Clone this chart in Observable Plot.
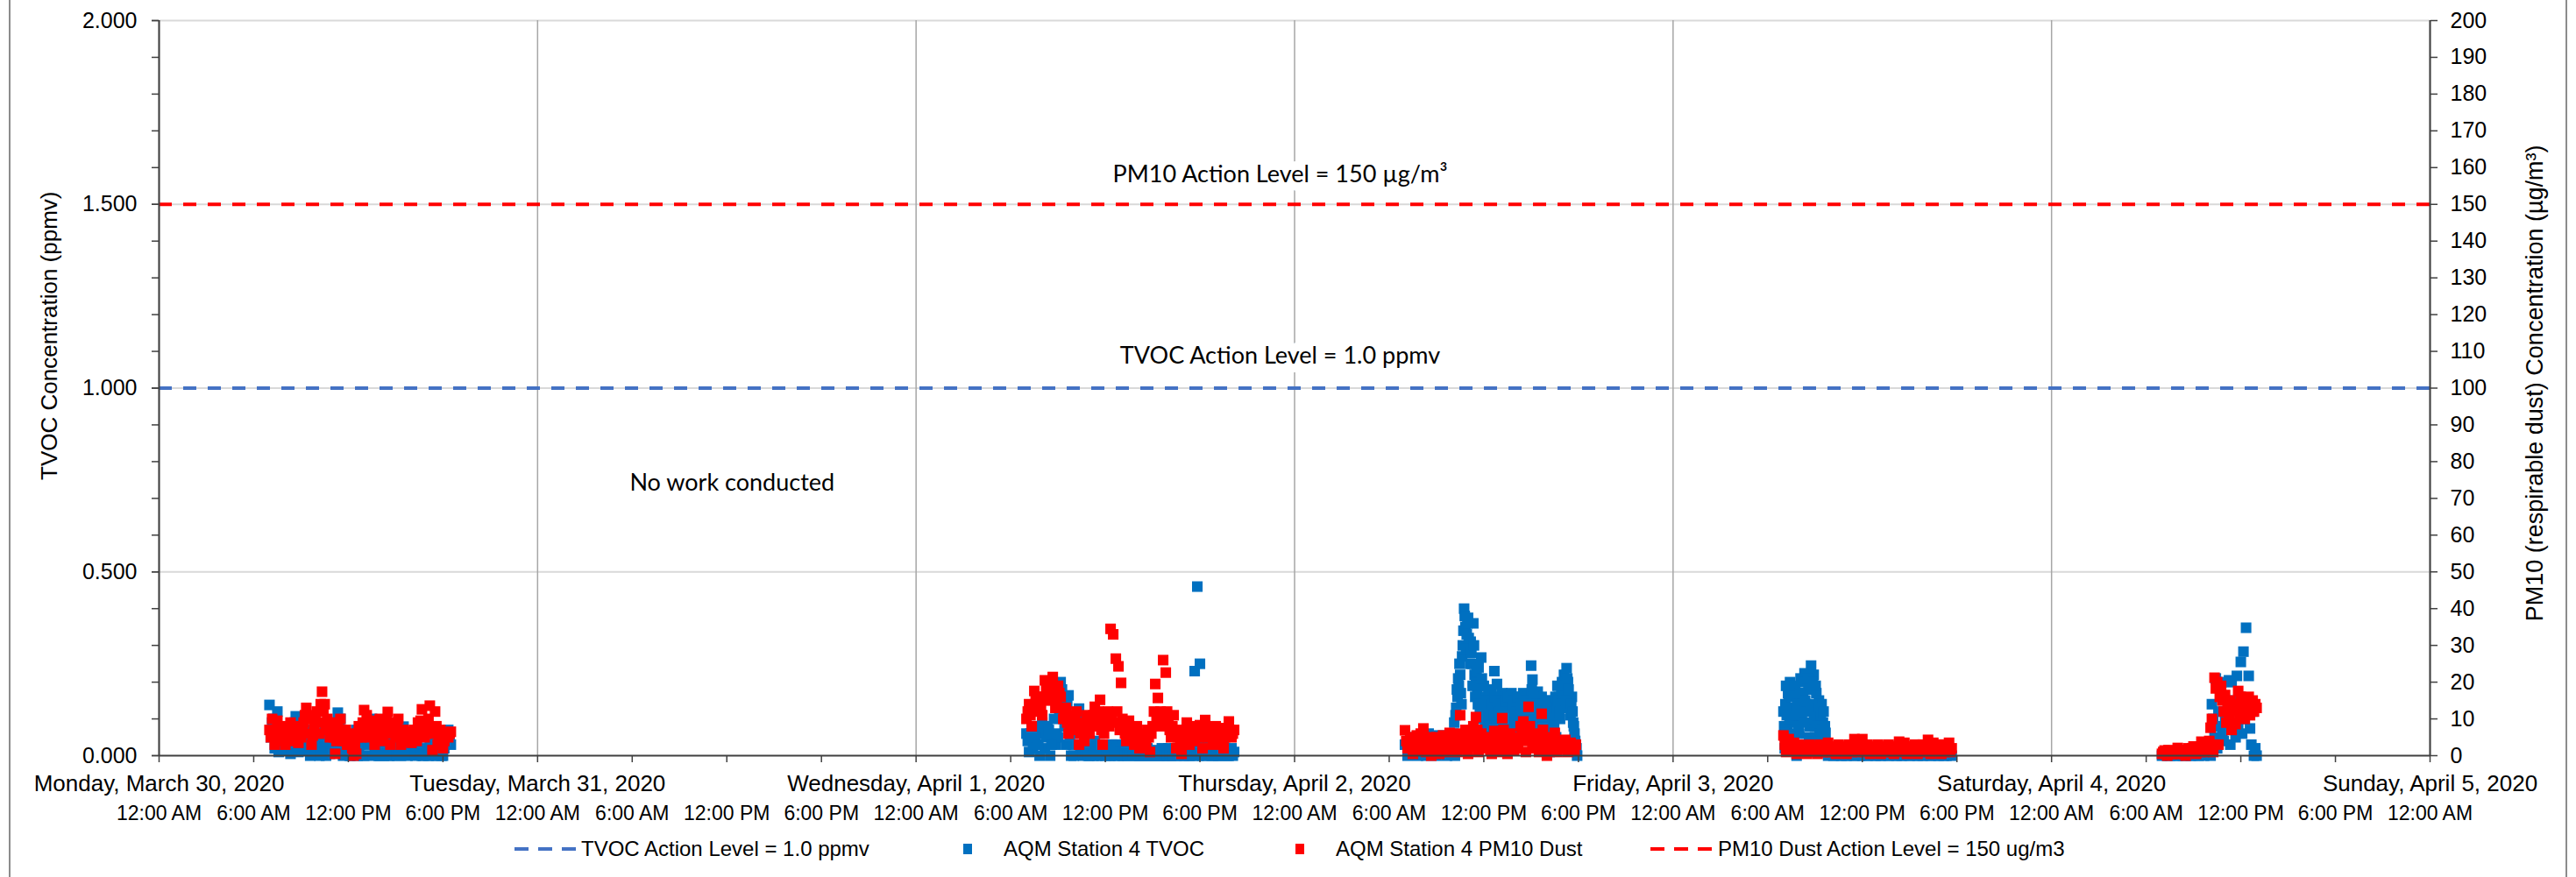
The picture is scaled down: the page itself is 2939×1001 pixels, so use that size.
<!DOCTYPE html>
<html>
<head>
<meta charset="utf-8">
<script src="https://cdn.jsdelivr.net/npm/d3@7"></script>
<script src="https://cdn.jsdelivr.net/npm/@observablehq/plot@0.6"></script>
<style>
  body { margin: 0; background: #fff; }
  #wrap { position: relative; width: 2939px; height: 1001px; overflow: hidden; font-family: "Liberation Sans", Arial, sans-serif; color: #000; }
  #border { position: absolute; left: 10px; top: -3px; width: 2919px; height: 1020px; border: 2px solid #8c8c8c; box-sizing: border-box; pointer-events: none; }
  #chart { position: absolute; left: 0; top: 0; }
  #legend { position: absolute; left: 0; top: 950px; width: 2939px; height: 38px; font-size: 24px; }
  .item { position: absolute; top: 0; height: 38px; display: flex; align-items: center; white-space: nowrap; }
</style>
</head>
<body>
<div id="wrap">
  <div id="chart"></div>
  <div id="legend"></div>
  <div id="border"></div>
</div>
<script>
// ---------- axis / tick definitions ----------
const dayTicks = ["2020-03-30", "2020-03-31", "2020-04-01", "2020-04-02", "2020-04-03", "2020-04-04", "2020-04-05"];
const dayLabels = ["Monday, March 30, 2020", "Tuesday, March 31, 2020", "Wednesday, April 1, 2020",
  "Thursday, April 2, 2020", "Friday, April 3, 2020", "Saturday, April 4, 2020", "Sunday, April 5, 2020"];
const hourLabels = ["12:00 AM", "6:00 AM", "12:00 PM", "6:00 PM"];
const leftMajorTicks = [0, 0.5, 1.0, 1.5, 2.0];
const leftMinorTicks = [0, 0.1, 0.2, 0.3, 0.4, 0.5, 0.6, 0.7, 0.8, 0.9, 1.0, 1.1, 1.2, 1.3, 1.4, 1.5, 1.6, 1.7, 1.8, 1.9, 2.0];
const rightTickLabels = [0, 10, 20, 30, 40, 50, 60, 70, 80, 90, 100, 110, 120, 130, 140, 150, 160, 170, 180, 190, 200];
const leftMax = 2.0, rightMax = 200;            // left axis ppmv, right axis µg/m³
const tvocActionLevel = 1.0;                    // ppmv
const pm10ActionLevel = 150;                    // µg/m³

// ---------- measured values (start time, step in minutes, values) ----------
// TVOC in ppmv, PM10 in µg/m³
const monTVOC = [0.138,0.09,0.02,0.12,0.03,0.06, 0.015,0.076,0.005,0.05,0.107,0.01, 0.09,0.015,0.05,0.07,0.03,0.01,
  0.06,0.0,0.04,0.08,0.02,0.005, 0.06,0.03,0.117,0.10,0.0,0.05, 0.04,0.0,0.02,0.07,0.01,0.05,
  0.0,0.06,0.03,0.10,0.01,0.04, 0.0,0.06,0.02,0.04,0.0,0.05, 0.01,0.03,0.0,0.079,0.02,0.045,
  0.06,0.01,0.04,0.079,0.0,0.05, 0.005,0.03,0.0,0.04,0.005,0.03, 0.0,0.05,0.07,0.03];
const monTVOC_b = [0.05,0.1,0.07,0.01,0.04,0.02, 0.05,0.03,0.02,0.09,0.04,0.03, 0.04,0.02,0.06,0.0,0.05,0.02,
  0.03,0.01,0.05,0.0,0.04,0.06, 0.09,0.05,0.08,0.02,0.01,0.03, 0.0,0.03,0.05,0.0,0.03,0.0,
  0.04,0.08,0.06,0.0,0.02,0.0, 0.03,0.0,0.01,0.0,0.02,0.03, 0.0,0.02,0.06,0.04,0.0,0.03,
  0.03,0.0,0.06,0.02,0.0,0.01, 0.0,0.01,0.02,0.0,0.01,0.0, 0.02,0.06,0.05];
const monPM10 = [7,10,3,9.5,4,8, 3,6.5,9,4,8,3.5, 5,9,13,11,3,8, 12,6,17.4,14,10,5, 9,0.5,8,10,4,7,
  3,6,0,0.5,8,5, 12.4,11,5,9.5,3,7, 10,4,8,11.9,3,9, 5,10,3,7,4,6.5, 3.5,7,4,6,12.6,5,
  8,13.6,1.5,12,3,7, 2,6,5,6.5];
const monPM10_b = [5,6,7,6.5,5.5,5, 5,4.5,6,7,5.5,6, 7,11,10,6,5.5,10, 9,14,12,8,7,6, 5,4,6,7,5,3,
  4,2,3,5,6,9, 8,7,7.5,6,5,8, 7,6,9.5,7,6,7, 8,6,5,5.5,5,5, 5,5.5,9,9.5,8,6,
  10,7,6,8,5,4.5, 4,5.5,6];

const wedTVOC = [0.06,0.01,0.08,0.03,0.07,0.0, 0.09,0.02,0.08,0.0,0.05,0.03, 0.05,0.2,0.15,0.03,0.164,0.0,
  0.0,0.1,0.128,0.02,0.03,0.005, 0.0,0.01,0.04,0.0,0.03,0.01, 0.0,0.02,0.0,0.01,0.03,0.0,
  0.02,0.0,0.04,0.005,0.01,0.0, 0.02,0.0,0.01,0.0,0.02,0.0, 0.01,0.0,0.015,0.0,0.01,0.0,
  0.02,0.0,0.01,0.0,0.02,0.005, 0.0,0.01,0.0,0.02,0.23,0.46, 0.25,0.0,0.02,0.01,0.03,0.0,
  0.04,0.0,0.02,0.03,0.01,0.0, 0.02,0.01];
const wedTVOC_b = [0.04,0.06,0.02,0.05,0.03,0.08, 0.06,0.05,0.07,0.03,0.1,0.06, 0.12,0.18,0.08,0.14,0.05,0.03,
  0.06,0.11,0.02,0.0,0.01,0.0, 0.02,0.0,0.01,0.03,0.0,0.02, 0.01,0.0,0.03,0.0,0.02,0.01,
  0.0,0.01,0.0,0.02,0.0,0.01, 0.0,0.02,0.0,0.01,0.0,0.01, 0.0,0.01,0.0,0.02,0.0,0.0,
  0.01,0.0,0.02,0.0,0.01,0.0, 0.02,0.0,0.01,0.0,0.02,0.0, 0.01,0.03,0.0,0.02,0.0,0.01,
  0.0,0.01,0.0,0.02,0.0,0.01, 0.0];
const wedPM10 = [10,14,8,17.6,12,16, 11,20.5,15,18,21.4,13, 19,16,10,13,6,11, 8,12,3,9,4,11,
  6,8,13.3,10,15.2,3, 9,12,34.5,33,26.4,24.3, 19.8,8,4,9.5,6,3, 8,2,6,4,7,1,
  8,19.5,15.7,12,26,22.6, 9,5,11,2,7,0.5, 5,9,3,8,4,6, 8.3,2,9.7,5,7,3,
  8,4,6,2,7.5,9.3, 5,7];
const wedPM10_b = [12,11,13,15,14,13, 16,18,17,19,17,15, 17,13,12,9,8,10, 10,7,6,7,8,9,
  10,11,9,12,7,6, 11,8,10,9,12,7, 10,6,7,5,5,6, 5,4,5,3,5,6,
  12,10,9,8,10,12, 7,8,6,5,4,3, 7,6,5,6,7,5, 5,6,7,6,5,5,
  6,5,4,5,6,7, 6];

const thuTVOC_am = [0.03,0.0,0.05,0.01,0.04,0.0, 0.02,0.045,0.0,0.06,0.01,0.05, 0.0,0.055,0.02,0.04,0.0,0.05];
const thuTVOC_pm = [0.02,0.06,0.0,0.13,0.16,0.19,0.22,0.14,0.30,0.40,0.35,0.33,
  0.375,0.28,0.31,0.25,0.36,0.22,0.20,0.17,0.24,0.12,0.267,0.15,
  0.19,0.08,0.16,0.11,0.14,0.06,0.17,0.09,0.23,0.13,0.195,0.07,
  0.15,0.10,0.17,0.05,0.13,0.16,0.08,0.14,0.11,0.17,0.06,0.12,
  0.16,0.09,0.14,0.15,0.07,0.12,0.17,0.10,0.13,0.05,0.16,0.11,
  0.245,0.207,0.15,0.08,0.12,0.174,0.14,0.06,0.16,0.10,0.13,0.09,
  0.12,0.15,0.01,0.138,0.07,0.11,0.14,0.05,0.19,0.16,0.10,0.17,
  0.13,0.22,0.18,0.238,0.20,0.15,0.11,0.16,0.09,0.06,0.03,0.0];
const thuTVOC_pm_b = [0.04,0.09,0.11,0.18,0.21,0.25,0.17,0.27,0.34,0.38,0.29,0.36,
  0.32,0.25,0.28,0.19,0.30,0.16,0.23,0.14,0.19,0.10,0.21,0.12,
  0.13,0.15,0.10,0.18,0.08,0.12,0.14,0.11,0.16,0.09,0.15,0.12,
  0.10,0.14,0.07,0.12,0.15,0.09,0.16,0.11,0.08,0.13,0.15,0.10,
  0.12,0.16,0.08,0.11,0.14,0.09,0.13,0.15,0.07,0.12,0.09,0.14,
  0.18,0.16,0.11,0.14,0.09,0.13,0.08,0.12,0.14,0.07,0.11,0.15,
  0.09,0.13,0.06,0.10,0.12,0.08,0.16,0.13,0.15,0.12,0.14,0.20,
  0.17,0.19,0.15,0.21,0.18,0.13,0.14,0.12,0.08,0.04,0.02];
const thuPM10 = [6.9,2,5,0.5,4,3, 6,7.4,1,4,0,2, 5,0.5,4,2,1,6.2, 3,5,1,11,2,7, 0.5,4,8,10.5,1,6,
  3,2,5,0.5,6.7,4, 1,10.2,5,0.5,6,3, 4,2,8,9.3,1,13.3, 5,2,6,1,11.4,3, 0,5,2,6.2,1,4,
  2,4.3,1,3.5,2,3];
const thuPM10_b = [4,3.5,2.5,2,5.5,1.5, 3,4.5,2.5,5,1.5,3, 2,3,5.5,1.5,3.5,2.5, 4,2.5,6,4,5,3,
  2.5,6,3,7,4,2.5, 4.5,3.5,1.5,3,5,2, 5,7,3,2.5,4,1.5, 2.5,5,6,4,7,8,
  3,4,3.5,5,7,2, 3,3.5,4,3,2.5,2, 3,2.5,2,2.5,1.5];

const friTVOC_am = [0.12,0.02,0.19,0.07,0.16,0.20,0.04,0.13,0.09,0.18,0.0,0.15,
  0.06,0.21,0.11,0.17,0.224,0.03,0.14,0.19,0.08,0.245,0.12,0.22,
  0.05,0.17,0.10,0.15,0.02,0.14,0.09,0.04,0.062,0.01];
const friTVOC_am_b = [0.08,0.14,0.11,0.17,0.10,0.13,0.16,0.06,0.19,0.11,0.14,0.08,
  0.17,0.13,0.20,0.09,0.15,0.12,0.21,0.05,0.18,0.14,0.20,0.10,
  0.19,0.08,0.13,0.06,0.11,0.07,0.12,0.08,0.03,0.02];
const friTVOC_pm = [0.0,0.01,0.0,0.005,0.0,0.0, 0.01,0.0,0.0,0.005,0.0,0.01, 0.0,0.0,0.005,0.0,0.01,0.0,
  0.0,0.005,0.0,0.0,0.01,0.0, 0.005,0.0,0.0,0.01,0.0,0.0, 0.005,0.0,0.01,0.0,0.0,0.005,
  0.0,0.0,0.01,0.0,0.005,0.0, 0.0,0.01,0.0,0.0,0.005,0.0];
const friPM10 = [5.5,1,4.5,2,3.5,0.5, 3,1.5,2.5,0.5,3,1, 2.5,0.5,3,1,2,3.5, 1,2.5,0.5,3,1.5,2.5,
  0.5,3,1,4.5,2,3.5, 4.5,1,3,0.5,2.5,1.5, 3,0.5,2.5,1,3,2, 0.5,2.5,3.8,1,3.5,0.5,
  2.5,1,3,0.5,2,3, 1,4.3,0.5,3.5,2,3, 0.5,3,1.5,3.5,2];
const friPM10_b = [3,2.5,3,1.5,2,2.5, 2,2.5,1,2,1.5,2.5, 1.5,2,1.5,2.5,1,2, 2,1,2,1.5,2.5,1,
  2,1.5,2.5,3,1,2, 2.5,2,1.5,2,1,2.5, 1.5,2,1,2,1.5,1, 2,1.5,2,2.5,2,1.5,
  1.5,2,1,2,1.5,1, 2.5,2,2,1.5,2.5,1.5, 2,1,2.5,1];

const satTVOC_am = [0,0.005,0,0,0.01,0, 0,0.005,0,0,0.01,0, 0,0.005,0,0.01,0,0.02];
const satTVOC_pm = [0.03,0.0,0.14,0.1,0.05,0.21,0.02,0.12,0.08,0.2,0.06,0.04,
  0.1,0.07,0.15,0.205,0.03,0.2,0.09,0.12,0.05,0.217,0.08,0.16,
  0.255,0.06,0.283,0.1,0.348,0.13,0.217,0.074,0.03,0.12,0.0,0.02, 0.0];
const satPM10_am = [0.5,1.4,0,1,0.5,1.2, 2.1,0.5,1.5,0,2,1, 2.5,0.5,1.5,3.8,1,3];
const satPM10_am_b = [1,0.5,1.5,0.5,1,0.5, 1.5,1,0.5,1.5,1,2, 1.5,2,1,2.5,3,2];
const satPM10_pm = [4.0,7.6,10,1,21.2,18.3,20,3,16,19,15,12,
  16.5,9,13,11,15,7,12,9,8.6,14,17.6,11,
  16,13,15,10,14,12,16,11,13,15,12,14, 13];

const tvocSegments = [
  ["2020-03-30T07:00", 10, monTVOC],
  ["2020-03-30T07:05", 10, monTVOC_b],
  ["2020-04-01T07:00", 10, wedTVOC],
  ["2020-04-01T07:05", 10, wedTVOC_b],
  ["2020-04-02T07:00", 10, thuTVOC_am],
  ["2020-04-02T10:00", 5, thuTVOC_pm],
  ["2020-04-02T10:02:30", 5, thuTVOC_pm_b],
  ["2020-04-03T07:00", 5, friTVOC_am],
  ["2020-04-03T07:02:30", 5, friTVOC_am_b],
  ["2020-04-03T09:50", 10, friTVOC_pm],
  ["2020-04-04T07:00", 10, satTVOC_am],
  ["2020-04-04T10:00", 5, satTVOC_pm]
];
const pm10Segments = [
  ["2020-03-30T07:00", 10, monPM10],
  ["2020-03-30T07:05", 10, monPM10_b],
  ["2020-04-01T07:00", 10, wedPM10],
  ["2020-04-01T07:05", 10, wedPM10_b],
  ["2020-04-02T07:00", 10, thuPM10],
  ["2020-04-02T07:05", 10, thuPM10_b],
  ["2020-04-03T07:00", 10, friPM10],
  ["2020-04-03T07:05", 10, friPM10_b],
  ["2020-04-04T07:00", 10, satPM10_am],
  ["2020-04-04T07:05", 10, satPM10_am_b],
  ["2020-04-04T10:00", 5, satPM10_pm]
];

// annotations (time, value on the left axis)
const notes = [
  {time: "2020-04-01T23:05", value: 1.561, text: "PM10 Action Level = 150 µg/m³"},
  {time: "2020-04-01T23:05", value: 1.066, text: "TVOC Action Level = 1.0 ppmv"},
  {time: "2020-03-31T12:20", value: 0.722, text: "No work conducted"}
];

// legend entries
const legendItems = [
  {kind: "dash", color: "#4472C4", label: "TVOC Action Level = 1.0 ppmv"},
  {kind: "square", color: "#0070C0", label: "AQM Station 4 TVOC"},
  {kind: "square", color: "#FF0000", label: "AQM Station 4 PM10 Dust"},
  {kind: "dash", color: "#FF0000", label: "PM10 Dust Action Level = 150 ug/m3"}
];

// ---------- build ----------
const utc = s => new Date(Date.parse(s + (s.length === 10 ? "T00:00Z" : "Z")));
function expand(segments) {
  const out = [];
  for (const [start, step, values] of segments) {
    const t0 = utc(start).getTime();
    values.forEach((v, i) => out.push({time: new Date(t0 + i * step * 60000), v}));
  }
  return out;
}
const tvoc = expand(tvocSegments);
const pm10 = expand(pm10Segments);
const scaleRatio = rightMax / leftMax;  // 100 µg/m³ per ppmv on the shared y scale

const days = dayTicks.map(utc);
const x0 = days[0], x1 = days[days.length - 1];
const sixHour = d3.utcHour.every(6).range(x0, new Date(+x1 + 1));
const hourTickData = sixHour.map((t, i) => ({t, label: hourLabels[i % 4]}));
const dayTickData = days.map((t, i) => ({t, label: dayLabels[i]}));
const noteData = notes.map(d => ({...d, t: utc(d.time)}));

const H = 950;
const chart = Plot.plot({
  width: 2939,
  height: H,
  marginLeft: 181,
  marginRight: 167,
  marginTop: 23,
  marginBottom: H - 862,
  style: {fontFamily: "'Liberation Sans', Arial, sans-serif", fontSize: "25px", color: "#000", background: "transparent", overflow: "visible"},
  x: {type: "utc", domain: [x0, x1]},
  y: {domain: [0, leftMax]},
  marks: [
    Plot.gridY({ticks: leftMajorTicks.filter(d => d > 0), stroke: "#d9d9d9", strokeOpacity: 1, strokeWidth: 2}),
    Plot.gridX({ticks: days, stroke: "#a6a6a6", strokeOpacity: 1, strokeWidth: 1.5}),
    Plot.text(noteData, {x: "t", y: "value", text: "text", fontFamily: "Lato, 'Open Sans', sans-serif", fontSize: 27,
      lineAnchor: "bottom", fill: "#000", stroke: "white", strokeWidth: 20}),
    Plot.ruleY([pm10ActionLevel / scaleRatio], {stroke: "#FF0000", strokeWidth: 4, strokeDasharray: "15,13"}),
    Plot.ruleY([tvocActionLevel], {stroke: "#4472C4", strokeWidth: 4, strokeDasharray: "15,13"}),
    Plot.dot(tvoc, {x: "time", y: "v", symbol: "square", r: 6.8, fill: "#0070C0", stroke: "none"}),
    Plot.dot(pm10, {x: "time", y: d => d.v / scaleRatio, symbol: "square", r: 6.8, fill: "#FF0000", stroke: "none"}),
    Plot.ruleX([x0, x1], {stroke: "#404040", strokeWidth: 2}),
    Plot.ruleY([0], {stroke: "#404040", strokeWidth: 2}),
    Plot.axisY({ticks: leftMinorTicks, tickSize: 8, tickFormat: () => "", label: null, strokeWidth: 1.5, stroke: "#404040"}),
    Plot.axisY({ticks: leftMajorTicks, tickSize: 8, tickPadding: 17, tickFormat: d3.format(".3f"), label: null, fontSize: 25, strokeWidth: 1.5, stroke: "#404040"}),
    Plot.axisY({anchor: "right", ticks: rightTickLabels.map(v => v / scaleRatio), tickSize: 8, tickPadding: 15,
      tickFormat: d => String(Math.round(d * scaleRatio)), label: null, fontSize: 25, strokeWidth: 1.5, stroke: "#404040"}),
    Plot.axisX({ticks: sixHour, tickSize: 8, tickFormat: () => "", label: null, strokeWidth: 1.5, stroke: "#404040"}),
    Plot.text(dayTickData, {x: "t", text: "label", frameAnchor: "bottom", lineAnchor: "bottom", dy: 40, fontSize: 26, fill: "#000"}),
    Plot.text(hourTickData, {x: "t", text: "label", frameAnchor: "bottom", lineAnchor: "bottom", dy: 73, fontSize: 23, fill: "#000"}),
    Plot.text(["TVOC Concentration (ppmv)"], {frameAnchor: "top-left", text: d => d, rotate: -90, dx: -117, dy: 195,
      textAnchor: "end", lineAnchor: "bottom", fontSize: 26, fill: "#000"}),
    Plot.text(["PM10 (respirable dust) Concentration (µg/m³)"], {frameAnchor: "top-right", text: d => d, rotate: -90, dx: 128, dy: 142,
      textAnchor: "end", lineAnchor: "bottom", fontSize: 27, fill: "#000"})
  ]
});
document.getElementById("chart").appendChild(chart);

// legend (HTML below the SVG)
const legendLefts = [587, 1099, 1478, 1883];
const legend = document.getElementById("legend");
legendItems.forEach((it, i) => {
  const div = document.createElement("div");
  div.className = "item";
  div.style.left = legendLefts[i] + "px";
  const w = i === 0 ? 70 : 74;
  const sw = it.kind === "dash"
    ? `<svg width="${w}" height="8" style="margin-right:${i === 0 ? 6 : 3}px"><line x1="0" y1="4" x2="${w}" y2="4" stroke="${it.color}" stroke-width="4" stroke-dasharray="16,11"/></svg>`
    : `<svg width="10" height="12" style="margin-right:36px"><rect width="10" height="12" fill="${it.color}"/></svg>`;
  div.innerHTML = sw + `<span>${it.label}</span>`;
  legend.appendChild(div);
});
</script>
</body>
</html>
